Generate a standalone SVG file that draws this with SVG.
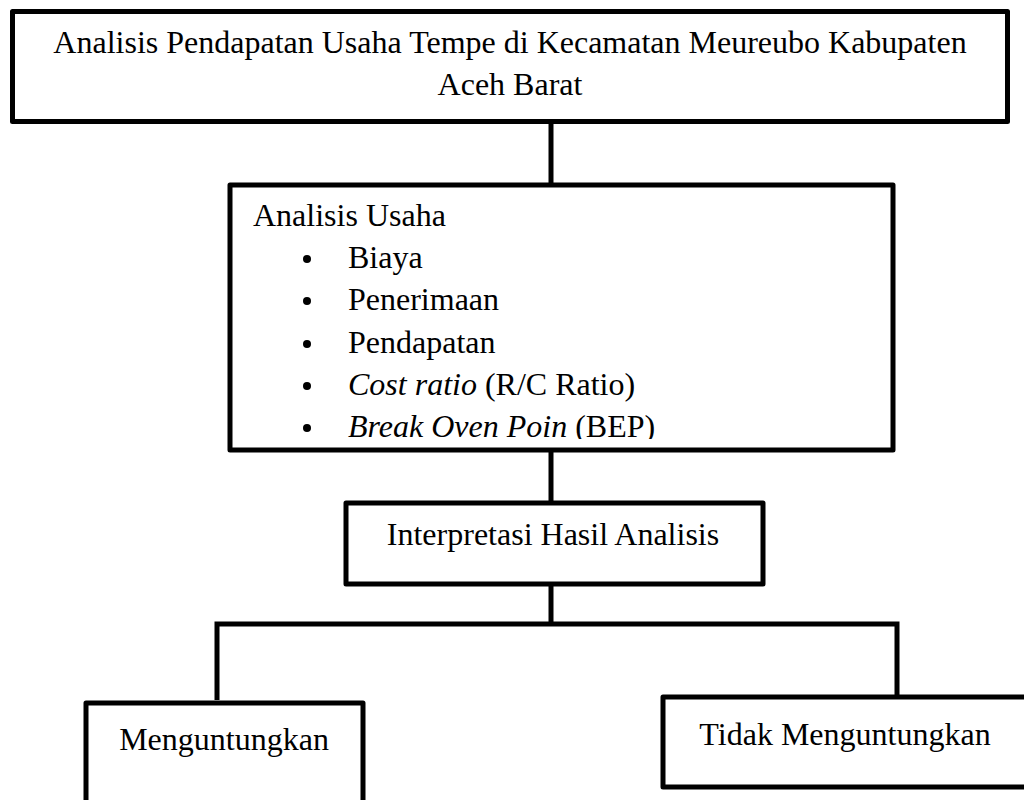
<svg xmlns="http://www.w3.org/2000/svg" width="1024" height="800" viewBox="0 0 1024 800">
<style>
.box{fill:#fff;stroke:#000;stroke-width:5;stroke-linejoin:round}
.ln{fill:none;stroke:#000;stroke-width:5}
text{font-family:"Liberation Serif","Times New Roman",serif;font-size:32px;fill:#000}
.c{text-anchor:middle}
</style>
<defs>
<clipPath id="clipMid"><rect x="232" y="187" width="660" height="252"/></clipPath>
</defs>
<rect width="1024" height="800" fill="#fff"/>
<g id="connectors">
<line class="ln" x1="551" y1="121" x2="551" y2="186"/>
<line class="ln" x1="551" y1="450" x2="551" y2="504"/>
<line class="ln" x1="551" y1="584" x2="551" y2="624"/>
<polyline class="ln" points="217,700 217,624 897,624 897,698"/>
</g>
<g id="title">
<rect class="box" x="12.5" y="11.5" width="995" height="110"/>
<text class="c" x="510" y="53">Analisis Pendapatan Usaha Tempe di Kecamatan Meureubo Kabupaten</text>
<text class="c" x="510" y="95">Aceh Barat</text>
</g>
<g id="analisis-usaha">
<rect class="box" x="230" y="185" width="663" height="265"/>
<g clip-path="url(#clipMid)">
<text x="253" y="226">Analisis Usaha</text>
<circle cx="307" cy="259" r="4"/>
<text x="348" y="268">Biaya</text>
<circle cx="307" cy="301" r="4"/>
<text x="348" y="310">Penerimaan</text>
<circle cx="307" cy="344" r="4"/>
<text x="348" y="353">Pendapatan</text>
<circle cx="307" cy="386" r="4"/>
<text x="348" y="395"><tspan font-style="italic">Cost ratio</tspan> (R/C Ratio)</text>
<circle cx="307" cy="428" r="4"/>
<text x="348" y="437"><tspan font-style="italic">Break Oven Poin</tspan> (BEP)</text>
</g>
</g>
<g id="interpretasi">
<rect class="box" x="346" y="503" width="417" height="81"/>
<text class="c" x="553" y="545">Interpretasi Hasil Analisis</text>
</g>
<g id="menguntungkan">
<rect class="box" x="86" y="703" width="277" height="110"/>
<text class="c" x="224" y="750">Menguntungkan</text>
</g>
<g id="tidak-menguntungkan">
<rect class="box" x="663" y="697" width="380" height="90"/>
<text class="c" x="845" y="745">Tidak Menguntungkan</text>
</g>
</svg>
